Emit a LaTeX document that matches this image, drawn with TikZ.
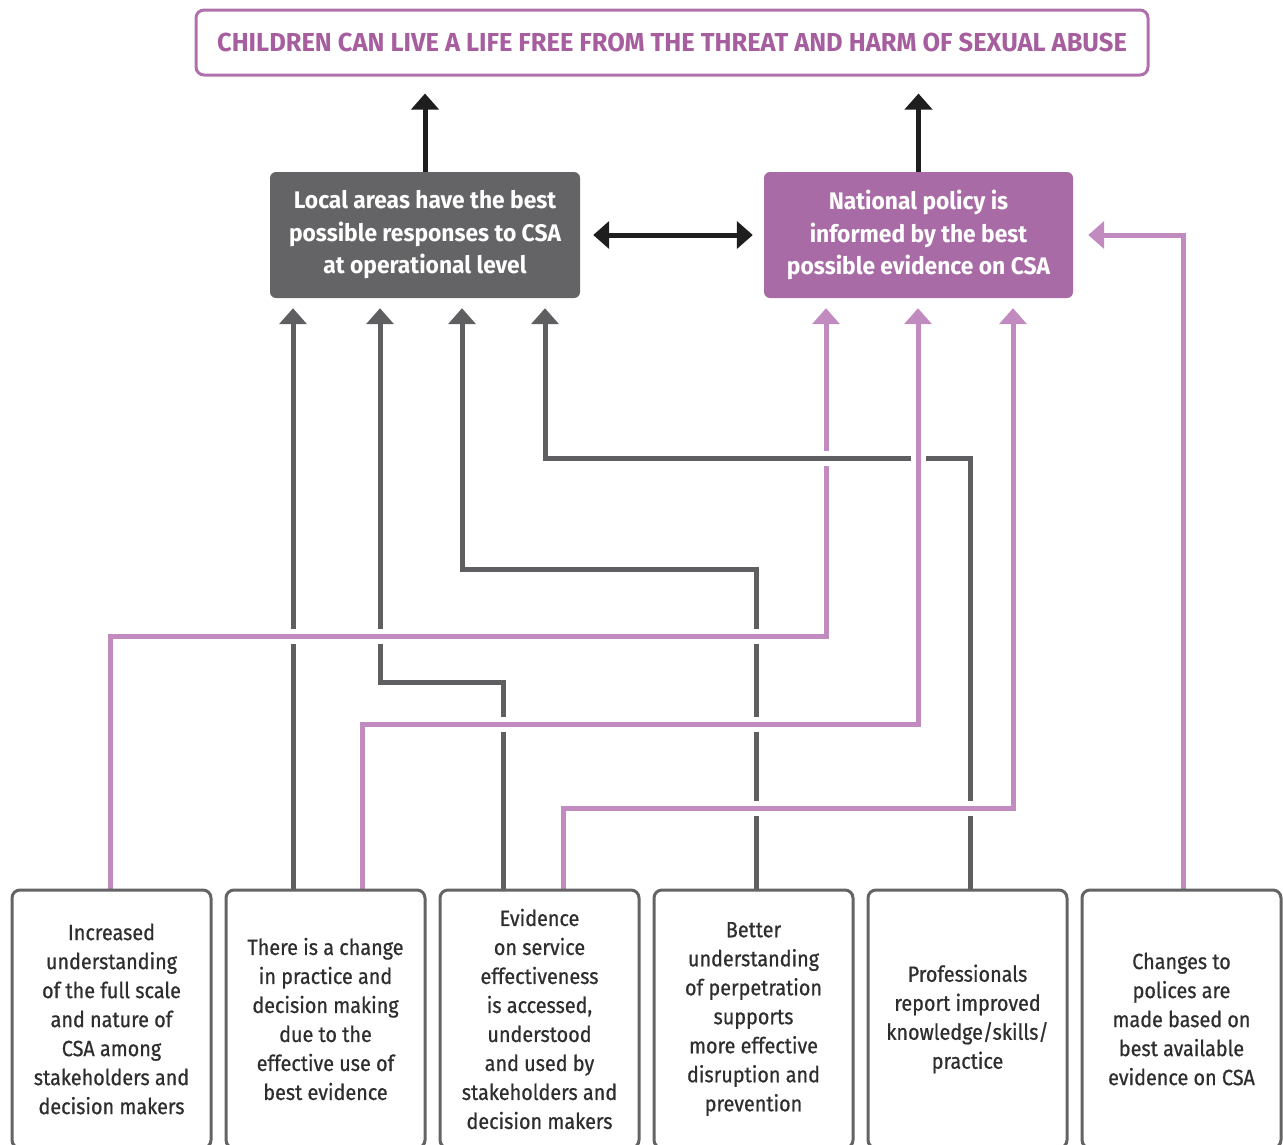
\documentclass[tikz,border=0pt]{standalone}
\usepackage{fontspec}
\setmainfont{Fira Sans}[FakeStretch=0.92]
\newfontfamily\titlefont{Fira Sans}[FakeStretch=0.98]
\newfontfamily\midfont{Fira Sans}[FakeStretch=0.95]
\newfontfamily\bodyfont{Fira Sans}[FakeStretch=0.9, FakeBold=0.7]
\usetikzlibrary{arrows.meta}
\pgfdeclarelayer{bg}
\pgfsetlayers{bg,main}
\definecolor{boxgrey}{HTML}{646466}
\definecolor{lnGrey}{HTML}{5F5F61}
\definecolor{natpurp}{HTML}{A96BA6}
\definecolor{lnPurp}{HTML}{C28BC0}
\definecolor{titlepurp}{HTML}{A65E9E}
\definecolor{titleedge}{HTML}{B070AC}
\definecolor{txt}{HTML}{2E2E2E}
\definecolor{blk}{HTML}{1E1E1E}
\begin{document}
\begin{tikzpicture}[x=1pt,y=-1pt,
  tipend/.style={-{Triangle[width=27pt,length=16pt]}},
  conn/.style={line width=5pt, tipend, preaction={draw=white, line width=15pt}},
  gconn/.style={conn, draw=lnGrey, shorten >=10pt},
  pconn/.style={conn, draw=lnPurp, shorten >=10pt},
  keyarrow/.style={draw=blk, line width=5pt},
  outbox/.style={draw=boxgrey, line width=3pt, rounded corners=8pt, minimum width=199pt, minimum height=258pt, align=center, font=\bodyfont\fontsize{22}{29}\selectfont, text=txt, inner sep=0pt},
  midbox/.style={rounded corners=6pt, minimum width=310pt, minimum height=126pt, align=center, text=white, font=\midfont\bfseries\fontsize{24}{32.5}\selectfont, inner sep=0pt},
]
\useasboundingbox (0,0) rectangle (1283,1144);
\clip (0,0) rectangle (1283,1144);

% title
\node[draw=titleedge, line width=3pt, rounded corners=8pt, minimum width=952pt, minimum height=65pt, inner sep=0pt,
      text=titlepurp, font=\titlefont\bfseries\fontsize{26}{30}\selectfont] (T) at (672,42.5)
  {CHILDREN CAN LIVE A LIFE FREE FROM THE THREAT AND HARM OF SEXUAL ABUSE};

% middle boxes
\node[midbox, fill=boxgrey] (L) at (425,235) {Local areas have the best\\possible responses to CSA\\at operational level};
\node[midbox, fill=natpurp, minimum width=309pt] (N) at (918.5,235) {National policy is\\informed by the best\\possible evidence on CSA};

% bottom boxes
\node[outbox] (b1) at (111.5,1019) {Increased\\understanding\\of the full scale\\and nature of\\CSA among\\stakeholders and\\decision makers};
\node[outbox] (b2) at (325.5,1019) {There is a change\\in practice and\\decision making\\due to the\\effective use of\\best evidence};
\node[outbox] (b3) at (539.5,1019) {Evidence\\on service\\effectiveness\\is accessed,\\understood\\and used by\\stakeholders and\\decision makers};
\node[outbox] (b4) at (753.5,1019) {Better\\understanding\\of perpetration\\supports\\more effective\\disruption and\\prevention};
\node[outbox] (b5) at (967.5,1019) {Professionals\\report improved\\knowledge/skills/\\practice};
\node[outbox] (b6) at (1181.5,1019) {Changes to\\polices are\\made based on\\best available\\evidence on CSA};

\begin{pgfonlayer}{bg}
% top arrows
\draw[keyarrow, tipend, shorten >=17pt] (L.north) -- (L.north |- T.south);
\draw[keyarrow, tipend, shorten >=17pt] (N.north) -- (N.north |- T.south);
\draw[keyarrow, {Triangle[width=27pt,length=16pt]}-{Triangle[width=27pt,length=16pt]}, shorten >=11pt, shorten <=13pt] (L.east) -- (N.west);

% connectors (order sets which line passes over which)
\draw[gconn] ([xshift=-32.5pt]b2.north) -- ([xshift=-132pt]L.south);
\draw[gconn] ([xshift=-36.5pt]b3.north) -- ++(0,-206) -| ([xshift=-45pt]L.south);
\draw[gconn] ([xshift=2.5pt]b4.north) -- ++(0,-319) -| ([xshift=37pt]L.south);
\draw[pconn] ([xshift=-1.5pt]b1.north) -- ++(0,-252) -| ([xshift=-92.5pt]N.south);
\draw[gconn] ([xshift=2.5pt]b5.north) -- ++(0,-430) -| ([xshift=120pt]L.south);
\draw[pconn] ([xshift=36.5pt]b2.north) -- ++(0,-164) -| ([xshift=-0.5pt]N.south);
\draw[pconn] ([xshift=23.5pt]b3.north) -- ++(0,-80) -| ([xshift=94.5pt]N.south);
\draw[pconn, shorten >=15pt] ([xshift=1.5pt]b6.north) |- (N.east);
\end{pgfonlayer}
\end{tikzpicture}
\end{document}
